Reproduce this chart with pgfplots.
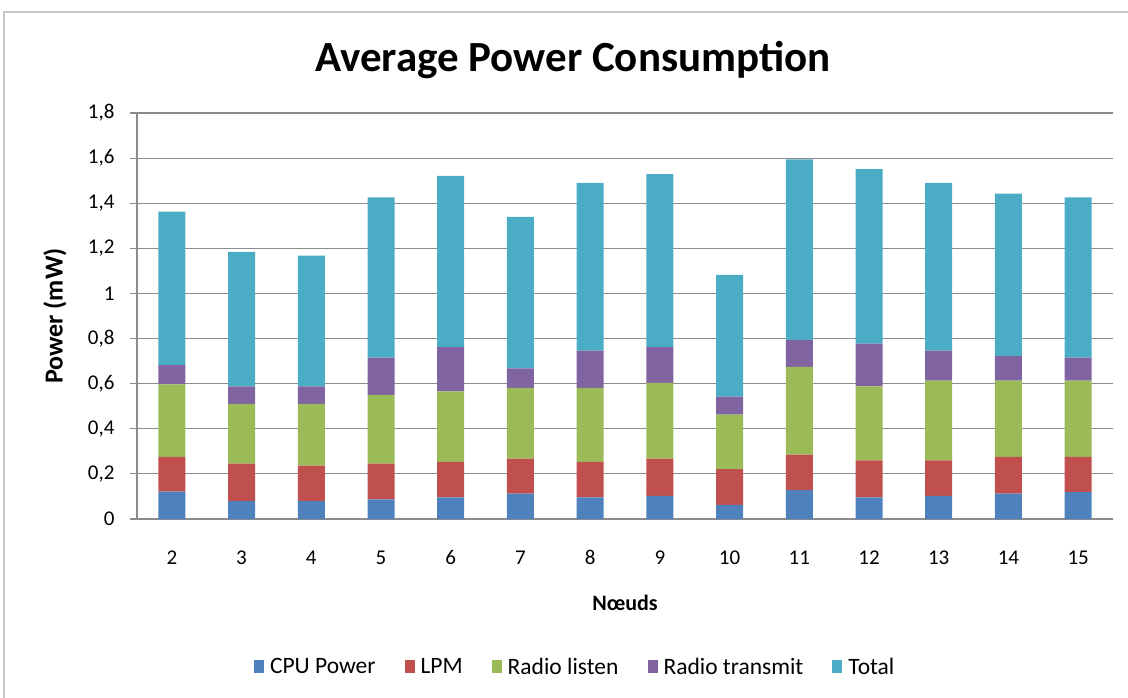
\documentclass[border=0pt]{standalone}
\usepackage{fontspec}
\setmainfont{Carlito}
\usepackage{pgfplots}
\usepackage{pgfplotstable}
\pgfplotsset{compat=1.18}

\definecolor{cpu}{HTML}{4F81BD}
\definecolor{lpm}{HTML}{C0504D}
\definecolor{listen}{HTML}{9BBB59}
\definecolor{transmit}{HTML}{8064A2}
\definecolor{total}{HTML}{4BACC6}
\definecolor{gridc}{HTML}{8C8C8C}

% segment heights (mW) per node count
\pgfplotstableread{
n  cpu   lpm   listen transmit total
2  0.121 0.155 0.321  0.085    0.681
3  0.079 0.167 0.264  0.078    0.596
4  0.079 0.158 0.273  0.078    0.580
5  0.087 0.159 0.304  0.165    0.711
6  0.096 0.157 0.313  0.196    0.759
7  0.112 0.156 0.313  0.087    0.672
8  0.096 0.157 0.328  0.166    0.743
9  0.103 0.165 0.336  0.158    0.767
10 0.063 0.158 0.242  0.080    0.539
11 0.128 0.157 0.390  0.118    0.801
12 0.096 0.164 0.328  0.190    0.773
13 0.103 0.157 0.353  0.134    0.743
14 0.112 0.164 0.337  0.109    0.721
15 0.119 0.157 0.337  0.102    0.711
}\datatable

\begin{document}
\begin{tikzpicture}
\useasboundingbox (-137pt,-178pt) rectangle (991pt,519pt);
\draw[gray!45, line width=1.5pt] (-133pt,-190pt) -- (-133pt,507pt) -- (1000pt,507pt);
\begin{axis}[
    scale only axis,
    width=976pt, height=406pt,
    ybar stacked,
    bar width=27pt,
    xmin=1.5, xmax=15.5,
    ymin=0, ymax=1.8,
    xtick={2,...,15},
    ytick={0,0.2,...,1.8},
    major x tick style={draw=none},
    extra x ticks={1.5,2.5,...,15.5},
    extra x tick labels={},
    extra x tick style={major tick length=7pt, tick align=outside, major tick style={draw=gridc, line width=1.2pt}, grid=none},
    ymajorgrids=true,
    grid style={gridc, line width=1.2pt},
    axis x line*=bottom,
    axis y line*=left,
    axis line style={gridc, line width=1.2pt, -},
    tick align=outside,
    major tick length=7pt,
    tick style={gridc, line width=1.2pt},
    ticklabel style={font=\fontsize{21}{25}\selectfont},
    /pgf/number format/use comma,
    /pgf/number format/assume math mode=true,
    yticklabel style={xshift=-12pt},
    xticklabel style={yshift=-21pt},
    xlabel={Nœuds},
    ylabel={Power (mW)},
    xlabel style={font=\bfseries\fontsize{22}{26}\selectfont, at={(axis description cs:0.5,-0.207)}, anchor=center},
    ylabel style={font=\bfseries\fontsize{26}{31}\selectfont, at={(axis description cs:-0.084,0.5)}, anchor=center},
    legend columns=-1,
    legend style={at={(0.449,-0.3645)}, anchor=center, draw=none,
        font=\fontsize{23.5}{28}\selectfont,
        /tikz/every odd column/.append style={column sep=4pt},
        /tikz/every even column/.append style={column sep=27pt}},
    legend image code/.code={\fill[#1] (0pt,-6.5pt) rectangle (10pt,6.5pt);},
]
\addplot[fill=cpu, draw=none] table[x=n, y=cpu] {\datatable};
\addplot[fill=lpm, draw=none] table[x=n, y=lpm] {\datatable};
\addplot[fill=listen, draw=none] table[x=n, y=listen] {\datatable};
\addplot[fill=transmit, draw=none] table[x=n, y=transmit] {\datatable};
\addplot[fill=total, draw=none] table[x=n, y=total] {\datatable};
\legend{CPU Power, LPM, Radio listen, Radio transmit, Total}
\end{axis}
\node[anchor=base, font=\bfseries\fontsize{43}{52}\selectfont] at (436pt,447pt) {Average Power Consumption};
\end{tikzpicture}
\end{document}
